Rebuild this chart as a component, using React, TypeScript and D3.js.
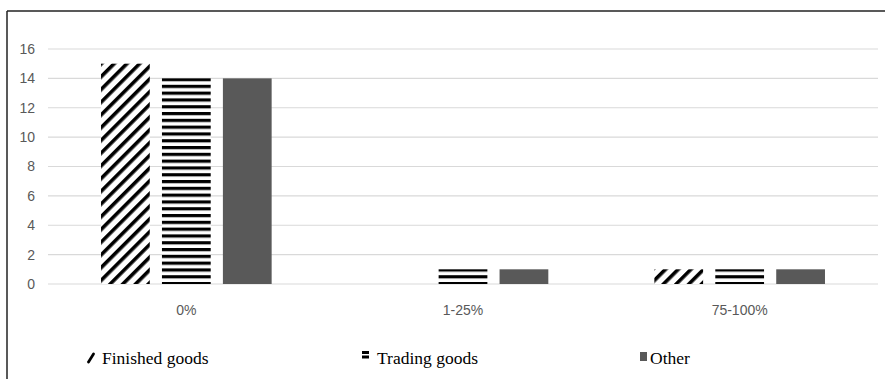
import React from "react";
import * as d3 from "d3";

// Share of revenue bands and number of firms per product type
const categories = ["0%", "1-25%", "75-100%"];
const seriesNames = ["Finished goods", "Trading goods", "Other"];
const finishedGoods = [15, 0, 1];
const tradingGoods = [14, 1, 1];
const otherGoods = [14, 1, 1];
const yTicks = [0, 2, 4, 6, 8, 10, 12, 14, 16];

const seriesValues = [finishedGoods, tradingGoods, otherGoods];
const fills = ["url(#diagStripes)", "url(#hStripes)", "#595959"];

const W = 885;
const H = 379;

export default function App() {
  const y = d3.scaleLinear().domain([0, 16]).range([284, 49]);
  const x = d3.scaleBand<string>().domain(categories).range([48, 878]);
  const xSub = d3
    .scaleBand<string>()
    .domain(seriesNames)
    .range([0, x.bandwidth()])
    .paddingInner(0.2)
    .paddingOuter(0.87);

  const legendX = [87, 362, 640];
  const legendTextGap = [15, 15, 10];
  const legendY = 364;

  return (
    <svg
      width={W}
      height={H}
      style={{ position: "absolute", left: 0, top: 0, background: "#fff" }}
    >
      <defs>
        <pattern
          id="diagStripes"
          patternUnits="userSpaceOnUse"
          width={9}
          height={9}
          patternTransform="rotate(45)"
        >
          <rect x={0} y={0} width={9} height={9} fill="#fff" />
          <rect x={0} y={0} width={3.6} height={9} fill="#000" />
        </pattern>
        <pattern
          id="hStripes"
          patternUnits="userSpaceOnUse"
          width={10}
          height={6.8}
          y={78}
        >
          <rect x={0} y={0} width={10} height={6.8} fill="#fff" />
          <rect x={0} y={0} width={10} height={3.2} fill="#000" />
        </pattern>
      </defs>

      {/* outer frame */}
      <line x1={7} y1={11} x2={W} y2={11} stroke="#222" strokeWidth={1.5} />
      <line x1={7} y1={11} x2={7} y2={H} stroke="#222" strokeWidth={1.5} />

      {/* gridlines and y tick labels */}
      {yTicks.map((t) => (
        <g key={t}>
          <line
            x1={48}
            x2={878}
            y1={y(t)}
            y2={y(t)}
            stroke="#d9d9d9"
            strokeWidth={1.2}
          />
          <text
            x={35}
            y={y(t)}
            dy="0.35em"
            textAnchor="end"
            fontFamily="'Liberation Sans', Arial, sans-serif"
            fontSize={14}
            fill="#595959"
          >
            {t}
          </text>
        </g>
      ))}

      {/* bars */}
      {categories.map((c, ci) => (
        <g key={c} transform={`translate(${x(c)},0)`}>
          {seriesNames.map((s, si) => {
            const v = seriesValues[si][ci];
            if (!v) return null;
            return (
              <rect
                key={s}
                x={xSub(s)}
                y={y(v)}
                width={xSub.bandwidth()}
                height={y(0) - y(v)}
                fill={fills[si]}
              />
            );
          })}
          <text
            x={x.bandwidth() / 2}
            y={315}
            textAnchor="middle"
            fontFamily="'Liberation Sans', Arial, sans-serif"
            fontSize={14}
            fill="#595959"
          >
            {c}
          </text>
        </g>
      ))}

      {/* legend */}
      <g>
        <line
          x1={legendX[0] + 1.5}
          y1={legendY - 2}
          x2={legendX[0] + 6.5}
          y2={legendY - 10}
          stroke="#000"
          strokeWidth={2.8}
          strokeLinecap="round"
        />
        <rect x={legendX[1]} y={legendY - 13} width={7} height={3} fill="#000" />
        <rect x={legendX[1]} y={legendY - 8.5} width={7} height={3} fill="#000" />
        <rect x={legendX[2]} y={legendY - 12} width={7} height={9} fill="#595959" />
        {seriesNames.map((s, i) => (
          <text
            key={s}
            x={legendX[i] + legendTextGap[i]}
            y={legendY}
            fontFamily="'Liberation Serif', 'Times New Roman', serif"
            fontSize={17.5}
            fill="#000"
          >
            {s}
          </text>
        ))}
      </g>
    </svg>
  );
}
